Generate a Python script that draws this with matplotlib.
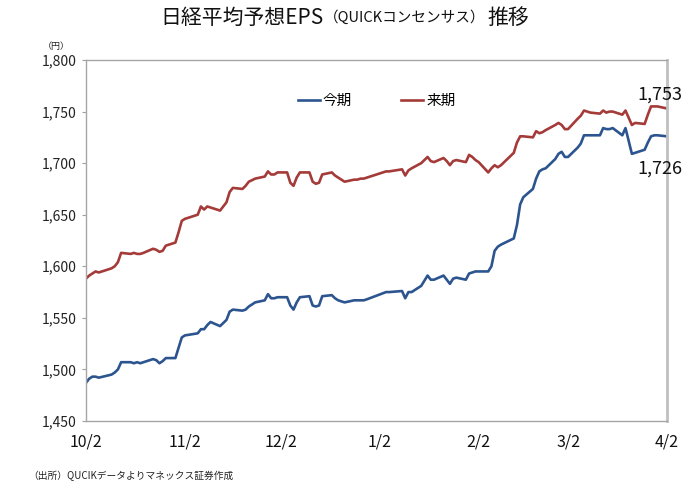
import matplotlib
matplotlib.use("Agg")
import matplotlib.pyplot as plt
import pandas as pd

plt.rcParams['font.family'] = ['Noto Sans CJK JP', 'DejaVu Sans']

# ---- data ----
start_date = "2017-10-02"
end_date = "2018-04-02"
jp_holidays = ["2017-10-09", "2017-11-03", "2017-11-23", "2018-01-01", "2018-01-02",
               "2018-01-03", "2018-01-08", "2018-02-12", "2018-03-21"]

# 今期 (current fiscal year EPS)
kon_ki = [
    # Oct
    1487, 1491, 1493, 1493, 1492, 1495, 1497, 1500, 1507, 1507, 1506, 1507, 1506, 1507,
    1510, 1509, 1506, 1508, 1511, 1511, 1521,
    # Nov
    1531, 1533, 1535, 1539, 1539, 1543, 1546, 1542, 1545, 1548, 1556, 1558, 1557, 1558,
    1561, 1565, 1567, 1573, 1569, 1569,
    # Dec
    1570, 1570, 1562, 1558, 1565, 1570, 1571, 1562, 1561, 1562, 1571, 1572, 1569, 1567,
    1566, 1565, 1567, 1567, 1567, 1567, 1568,
    # Jan
    1575, 1575, 1576, 1569, 1575, 1575, 1581, 1586, 1591, 1587, 1587, 1591, 1587, 1583,
    1588, 1589, 1587, 1593, 1594,
    # Feb
    1595, 1595, 1595, 1600, 1615, 1619, 1621, 1627, 1640, 1660, 1667, 1675, 1685, 1692,
    1694, 1695, 1704, 1709, 1711,
    # Mar
    1706, 1706, 1715, 1719, 1727, 1727, 1727, 1727, 1734, 1733, 1733, 1734, 1727, 1734,
    1709, 1710, 1713, 1720, 1726, 1727, 1727,
    # Apr
    1726,
]

# 来期 (next fiscal year EPS)
rai_ki = [
    # Oct
    1588, 1591, 1593, 1595, 1594, 1598, 1600, 1604, 1613, 1612, 1613, 1612, 1612, 1613,
    1617, 1616, 1614, 1615, 1620, 1623, 1633,
    # Nov
    1644, 1646, 1650, 1658, 1655, 1658, 1657, 1654, 1658, 1662, 1672, 1676, 1675, 1678,
    1682, 1685, 1687, 1692, 1689, 1689,
    # Dec
    1691, 1691, 1681, 1678, 1686, 1691, 1691, 1682, 1680, 1681, 1689, 1691, 1688, 1686,
    1684, 1682, 1684, 1684, 1685, 1685, 1686,
    # Jan
    1692, 1692, 1694, 1688, 1693, 1695, 1700, 1703, 1706, 1702, 1701, 1705, 1702, 1698,
    1702, 1703, 1701, 1708, 1706,
    # Feb
    1703, 1701, 1691, 1695, 1698, 1696, 1698, 1710, 1720, 1726, 1726, 1725, 1731, 1729,
    1730, 1732, 1737, 1739, 1737,
    # Mar
    1733, 1733, 1743, 1746, 1751, 1750, 1749, 1748, 1751, 1749, 1750, 1750, 1747, 1751,
    1737, 1739, 1738, 1747, 1755, 1755, 1755,
    # Apr
    1753,
]

series_names = ["今期", "来期"]
tick_dates = ["2017-10-02", "2017-11-02", "2017-12-02", "2018-01-02", "2018-02-02",
              "2018-03-02", "2018-04-02"]
tick_labels = ["10/2", "11/2", "12/2", "1/2", "2/2", "3/2", "4/2"]
y_ticks = [1450, 1500, 1550, 1600, 1650, 1700, 1750, 1800]

title_main = "日経平均予想EPS"
title_paren = "（QUICKコンセンサス）"
title_tail = "推移"
unit_label = "（円）"
source_text = "（出所）QUCIKデータよりマネックス証券作成"

# ---- plot ----
dates = pd.bdate_range(start_date, end_date, freq="C", holidays=jp_holidays)
assert len(dates) == len(kon_ki) == len(rai_ki)

W, H = 700, 490
fig = plt.figure(figsize=(7, 4.9), dpi=100)
ax = fig.add_axes([86 / W, 1 - 421 / H, (667 - 86) / W, (421 - 60) / H])

blue = "#2C5590"
red = "#A43B39"
l1, = ax.plot(dates, kon_ki, color=blue, lw=1.9, label=series_names[0], solid_joinstyle="round")
l2, = ax.plot(dates, rai_ki, color=red, lw=1.9, label=series_names[1], solid_joinstyle="round")

ax.set_xlim(pd.Timestamp(start_date), pd.Timestamp(end_date))
ax.set_ylim(y_ticks[0], y_ticks[-1])
ax.set_yticks(y_ticks)
ax.set_yticklabels([f"{v:,}" for v in y_ticks], fontsize=10, color="#222222")
ax.set_xticks([pd.Timestamp(d) for d in tick_dates])
ax.set_xticklabels(tick_labels, fontsize=11.5, color="#111111")
ax.tick_params(axis="x", length=0, pad=9)
ax.tick_params(axis="y", length=3, color="#A0A0A0", pad=4)

for side, sp in ax.spines.items():
    sp.set_color("#A6A6A6")
    sp.set_linewidth(1.0)
ax.spines["right"].set_color("#C0C0C0")
ax.spines["right"].set_linewidth(2.0)

leg = ax.legend(handles=[l1, l2], ncol=2, frameon=False, fontsize=10.5,
                loc="center", bbox_to_anchor=(0.5, 1 - (101 - 60) / (421 - 60)),
                handlelength=1.5, handletextpad=0.2, columnspacing=3.4)

# end-value annotations
ax.annotate(f"{rai_ki[-1]:,}", xy=(dates[-1], rai_ki[-1]), xytext=(-21, 10),
            textcoords="offset points", fontsize=13, color="#111111", ha="left", va="center",
            annotation_clip=False)
ax.annotate(f"{kon_ki[-1]:,}", xy=(dates[-1], kon_ki[-1]), xytext=(-21, -23),
            textcoords="offset points", fontsize=13, color="#111111", ha="left", va="center",
            annotation_clip=False)

# title pieces placed one after another
renderer = fig.canvas.get_renderer()
ty = 1 - 18 / H
x_px = 160
t1 = fig.text(x_px / W, ty, title_main, fontsize=15, ha="left", va="center", color="#111111")
x_px = t1.get_window_extent(renderer).x1 + 1
t2 = fig.text(x_px / W, ty, title_paren, fontsize=10.5, ha="left", va="center", color="#111111")
x_px = t2.get_window_extent(renderer).x1 + 2
t3 = fig.text(x_px / W, ty, title_tail, fontsize=15, ha="left", va="center", color="#111111")

fig.text(56 / W, 1 - 46 / H, unit_label, fontsize=6.5, ha="center", va="center", color="#222222")
fig.text(28 / W, 1 - 476 / H, source_text, fontsize=7, ha="left", va="center", color="#222222")

fig.savefig("out.png", dpi=100, facecolor="white")
